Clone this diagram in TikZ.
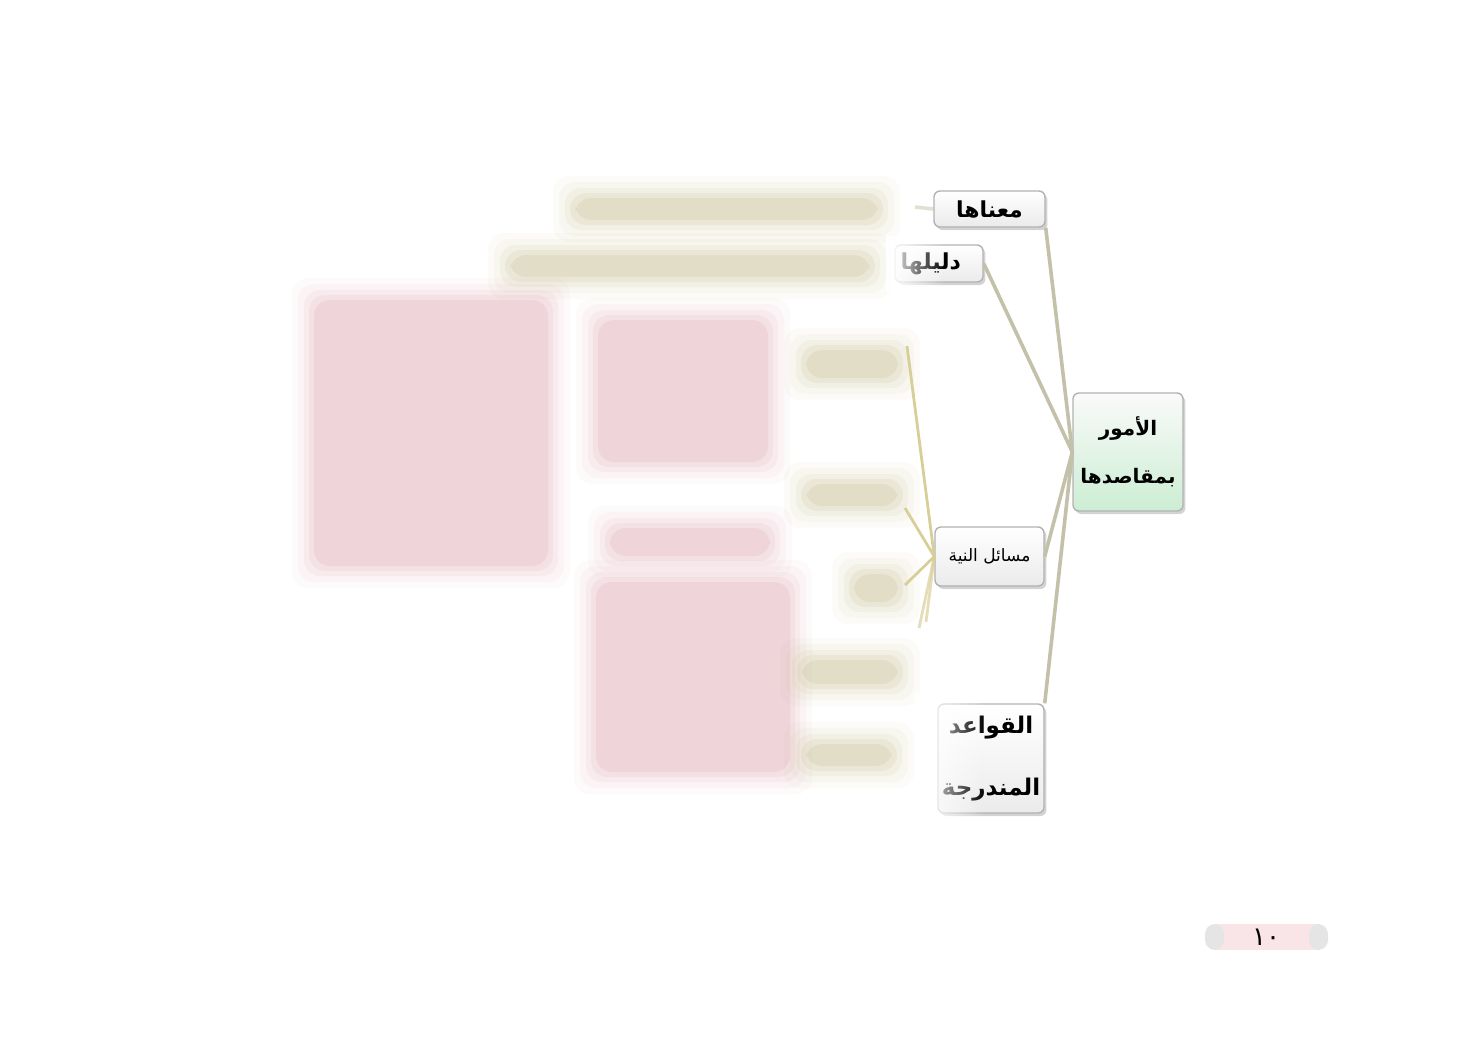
\documentclass[tikz,border=0pt]{standalone}
\usepackage{fontspec}
\newfontfamily\arabicfont[Script=Arabic]{DejaVu Sans}
\TeXXeTstate=1
\definecolor{carte_trait}{RGB}{196,193,170}
\definecolor{carte_branche}{RGB}{216,206,152}
\definecolor{carte_vert}{RGB}{204,237,211}
\definecolor{carte_rose}{RGB}{222,166,178}
\definecolor{carte_kaki}{RGB}{196,186,138}
\definecolor{carte_page}{RGB}{249,228,231}
\usepackage{tikz}
\usetikzlibrary{positioning, shadows, fadings, calc}
% boite floue : couleur, x1, y1, x2, y2
\newcommand{\flou}[5]{%
  \foreach \e/\o in {22/0.06, 16/0.08, 10/0.11, 5/0.15, 0/0.22}
    \fill[#1, opacity=\o, rounded corners=8pt] (#2-\e,#3-\e) rectangle (#4+\e,#5+\e);
}
\tikzset{
  boite/.style={draw=gray!60, line width=0.7pt, rounded corners=3pt,
    top color=white, bottom color=gray!16, inner sep=0pt,
    drop shadow={opacity=0.35, shadow xshift=1.2pt, shadow yshift=-1.5pt}},
  racine/.style={boite, top color=gray!4, bottom color=carte_vert},
  lien/.style={carte_trait, line width=1.8pt},
  branche/.style={carte_branche, line width=1.4pt},
}
\begin{document}
\begin{tikzpicture}[x=0.5pt, y=-0.5pt]
        \useasboundingbox (0,0) rectangle (1477,1040);
        % Zone floue a gauche
        \flou{carte_kaki}{575}{198}{878}{220}
        \flou{carte_kaki}{510}{255}{870}{277}
        \flou{carte_rose}{314}{300}{548}{566}
        \flou{carte_rose}{598}{320}{768}{462}
        \flou{carte_rose}{610}{528}{770}{556}
        \flou{carte_rose}{596}{582}{790}{772}
        \flou{carte_kaki}{806}{350}{898}{378}
        \flou{carte_kaki}{806}{484}{898}{506}
        \flou{carte_kaki}{854}{574}{898}{602}
        \flou{carte_kaki}{802}{660}{898}{684}
        \flou{carte_kaki}{806}{744}{892}{766}
        \coordinate (f0) at (915,207);
        \coordinate (f1) at (907,346);
        \coordinate (f2) at (905,508);
        \coordinate (f3) at (905,585);
        \coordinate (f4) at (919,628);
        \coordinate (f5) at (926,622);
        % Noeuds
        \node[racine, minimum width=55pt, minimum height=59pt, align=center,
          font=\arabicfont\bfseries\fontsize{10}{24}\selectfont] (root) at (1128,452)
          {\beginR الأمور\endR\\\beginR بمقاصدها\endR};
        \node[boite, minimum width=55.5pt, minimum height=18pt,
          font=\arabicfont\bfseries\fontsize{11}{13}\selectfont] (ma3na) at (989.5,209)
          {\beginR معناها\endR};
        \node[boite, minimum width=44pt, minimum height=18.5pt, text width=40pt, align=right,
          font=\arabicfont\bfseries\fontsize{11}{13}\selectfont] (dalil) at (939,263.5)
          {\beginR دليلها\endR\rule{9pt}{0pt}};
        \node[boite, minimum width=54.5pt, minimum height=29.5pt,
          font=\arabicfont\fontsize{8.5}{10}\selectfont] (masail) at (989.5,556.5)
          {\beginR مسائل النية\endR};
        \node[boite, minimum width=53pt, minimum height=54.5pt, align=center,
          font=\arabicfont\bfseries\fontsize{11.5}{31}\selectfont] (qawaid) at (991,758.5)
          {\beginR القواعد\endR\\\beginR المندرجة\endR};
        % Voile sur les bords gauches
        \fill[white, path fading=east] (886,236) rectangle (945,292);
        \fill[white, path fading=east] (915,692) rectangle (985,826);
        % Liens
        \draw[lien] (ma3na.south east) -- (root.west);
        \draw[lien] (dalil.east) -- (root.west);
        \draw[lien] (masail.east) -- (root.west);
        \draw[lien] (qawaid.north east) -- (root.west);
        \draw[lien, opacity=0.5] (ma3na.west) -- (f0);
        \foreach \f in {f1, f2, f3}
          \draw[branche] (masail.west) -- (\f);
        \foreach \f in {f4, f5}
          \draw[branche, opacity=0.7] (masail.west) -- (\f);
        % Numero de page
        \fill[carte_page] (1214,924) rectangle (1320,950);
        \fill[gray!20, rounded corners=5pt] (1205,924) rectangle (1224,950);
        \fill[gray!20, rounded corners=5pt] (1309,924) rectangle (1328,950);
        \node[font=\arabicfont\fontsize{13}{15}\selectfont] (page) at (1266,937) {١٠};
      \end{tikzpicture}
\end{document}
